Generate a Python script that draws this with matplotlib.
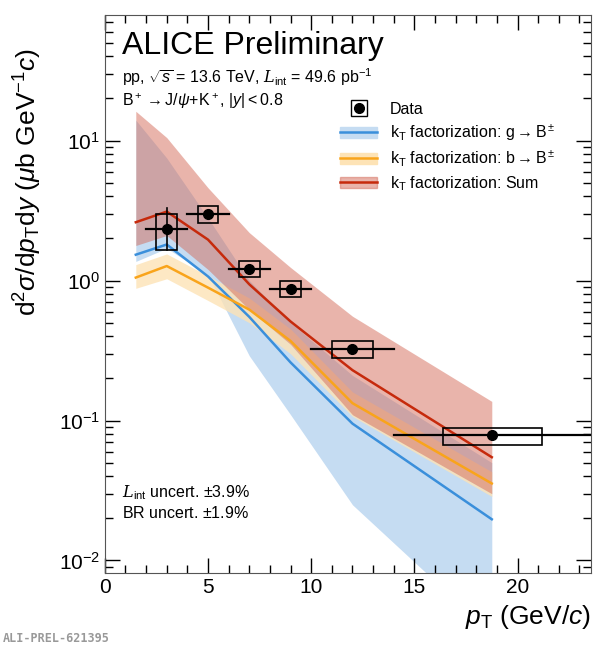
import numpy as np
import matplotlib
matplotlib.use("Agg")
import matplotlib.pyplot as plt
from matplotlib.patches import Rectangle, Patch
from matplotlib.lines import Line2D

plt.rcParams['font.family'] = ['Liberation Sans', 'DejaVu Sans']
plt.rcParams['mathtext.fontset'] = 'custom'
plt.rcParams['mathtext.rm'] = 'Liberation Sans'
plt.rcParams['mathtext.it'] = 'Liberation Sans:italic'
plt.rcParams['mathtext.cal'] = 'DejaVu Serif:italic'

# data points
pt = [3, 5, 7, 9, 12, 18.77]
pt_lo = [2, 4, 6, 8, 10, 14]
pt_hi = [4, 6, 8, 10, 14, 23.6]
xs = [2.35, 3.0, 1.21, 0.877, 0.323, 0.0783]
stat_lo = [1.66, 2.85, 1.15, 0.84, 0.31, 0.075]
stat_hi = [3.3, 3.15, 1.27, 0.92, 0.335, 0.082]
sys_lo = [1.65, 2.58, 1.06, 0.76, 0.28, 0.0665]
sys_hi = [3.01, 3.4, 1.37, 1.0, 0.368, 0.089]
box_w = [1.0, 1.0, 1.0, 1.0, 2.0, 4.8]

# kT factorization predictions
th_x = [1.5, 3, 5, 7, 9, 12, 18.75]
g_c = [1.53, 1.81, 1.07, 0.55, 0.26, 0.095, 0.0197]
g_lo = [1.37, 1.7, 1.1, 0.29, 0.11, 0.025, 0.003]
g_hi = [14.0, 7.5, 2.8, 1.0, 0.5, 0.21, 0.05]
b_c = [1.05, 1.27, 0.89, 0.62, 0.37, 0.133, 0.0355]
b_lo = [0.88, 1.03, 0.72, 0.5, 0.3, 0.107, 0.0287]
b_hi = [1.3, 1.55, 1.08, 0.75, 0.45, 0.16, 0.043]
s_c = [2.61, 3.11, 1.96, 0.94, 0.51, 0.229, 0.0547]
s_lo = [1.78, 2.1, 1.2, 0.62, 0.35, 0.11, 0.03]
s_hi = [16.2, 10.5, 4.6, 2.2, 1.24, 0.556, 0.137]

c_blue, c_orange, c_red = '#3a8fdb', '#f9a41b', '#c62a0c'
f_blue, f_orange, f_red = '#c5dcf2', '#fde3b6', (0.83, 0.42, 0.35, 0.5)

fig = plt.figure(figsize=(6.06, 6.5), dpi=100)
ax = fig.add_axes([0.173, 0.118, 0.802, 0.859])

ax.fill_between(th_x, g_lo, g_hi, color=f_blue, lw=0)
ax.fill_between(th_x, b_lo, b_hi, color=f_orange, lw=0, alpha=0.8)
ax.fill_between(th_x, s_lo, s_hi, color=f_red, lw=0)
ax.plot(th_x, g_c, color=c_blue, lw=1.8)
ax.plot(th_x, b_c, color=c_orange, lw=1.8)
ax.plot(th_x, s_c, color=c_red, lw=1.8)

for i in range(len(pt)):
    ax.add_patch(Rectangle((pt[i] - box_w[i] / 2, sys_lo[i]), box_w[i], sys_hi[i] - sys_lo[i],
                           fill=False, ec='black', lw=1.2, zorder=5))
    ax.plot([pt_lo[i], pt_hi[i]], [xs[i], xs[i]], color='black', lw=1.6, zorder=5)
    ax.plot([pt[i], pt[i]], [stat_lo[i], stat_hi[i]], color='black', lw=1.2, zorder=5)
ax.plot(pt, xs, 'o', color='black', ms=7, zorder=6)

ax.set_yscale('log')
ax.set_xlim(0, 23.55)
ax.set_ylim(0.0081, 79)
ax.xaxis.set_minor_locator(matplotlib.ticker.MultipleLocator(1))
ax.tick_params(which='both', direction='in', top=True, right=True, labelsize=15)
ax.tick_params(which='major', length=11, width=1)
ax.tick_params(which='minor', length=6, width=1)
for s in ax.spines.values():
    s.set_color('#555555')
ax.set_xlabel(r'$p_{\rm T}$ (GeV/$c$)', fontsize=19, loc='right')
ax.set_ylabel(r'd$^2\sigma$/d$p_{\rm T}$d$y$ ($\mu$b GeV$^{-1}$$c$)', fontsize=19)
ax.yaxis.set_label_coords(-0.125, 0.7)

ax.text(0.035, 0.945, 'ALICE Preliminary', transform=ax.transAxes, fontsize=23, va='center')
ax.text(0.035, 0.888, r'pp, $\sqrt{s}$ = 13.6 TeV, $\mathcal{L}_{\rm int}$ = 49.6 pb$^{-1}$',
        transform=ax.transAxes, fontsize=11.5, va='center')
ax.text(0.035, 0.846, r'B$^+\rightarrow$J/$\psi$+K$^+$, $|y|<0.8$',
        transform=ax.transAxes, fontsize=11.5, va='center')
ax.text(0.035, 0.145, r'$\mathcal{L}_{\rm int}$ uncert. $\pm$3.9%', transform=ax.transAxes,
        fontsize=11.5, va='center')
ax.text(0.035, 0.108, r'BR uncert. $\pm$1.9%', transform=ax.transAxes, fontsize=11.5, va='center')

h_data = (Line2D([], [], marker='s', ms=11, mfc='none', mec='black', ls='none'),
          Line2D([], [], marker='o', ms=7, color='black', ls='none'))
h_g = (Patch(color=f_blue), Line2D([], [], color=c_blue, lw=1.8))
h_b = (Patch(color=f_orange), Line2D([], [], color=c_orange, lw=1.8))
h_s = (Patch(color=f_red), Line2D([], [], color=c_red, lw=1.8))
ax.legend([h_data, h_g, h_b, h_s],
          ['Data', r'k$_{\rm T}$ factorization: g$\rightarrow$B$^\pm$',
           r'k$_{\rm T}$ factorization: b$\rightarrow$B$^\pm$',
           r'k$_{\rm T}$ factorization: Sum'],
          loc='upper left', bbox_to_anchor=(0.455, 0.87), frameon=False, fontsize=11.5,
          handlelength=2.3, labelspacing=0.35)

fig.text(0.005, 0.012, 'ALI-PREL-621395', family='DejaVu Sans Mono', fontsize=8.5,
         color='#999999', weight='bold')
fig.savefig('out.png', dpi=100)
